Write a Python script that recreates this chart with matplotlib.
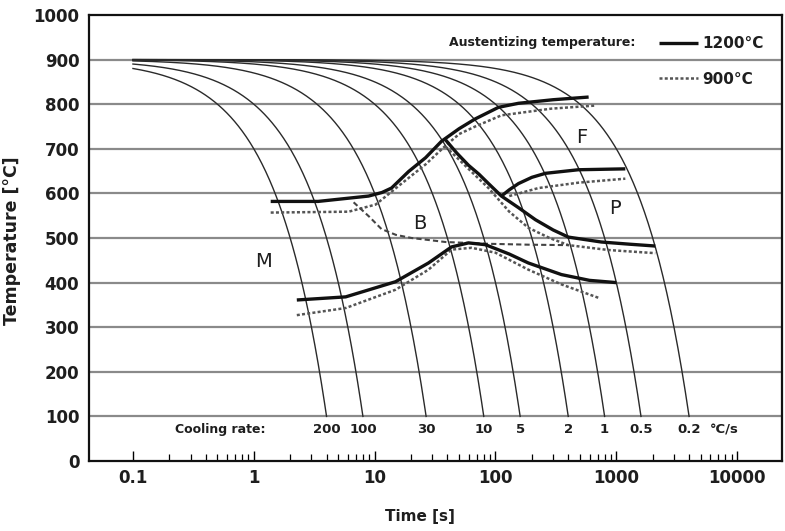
import numpy as np
import matplotlib.pyplot as plt
from matplotlib.ticker import NullFormatter

plt.rcParams['font.family'] = ['DejaVu Sans']

# cooling rates (degC/s) of the continuous cooling curves
rates = [200, 100, 30, 10, 5, 2, 1, 0.5, 0.2]
rate_labels = ['200', '100', '30', '10', '5', '2', '1', '0.5', '0.2']
T_aust = 900
T_stop = 100
t_first = 0.1

# austenitizing 1200 C (solid)
fb_start_1200_t = [1.38, 3.4, 8.9, 11.5, 13.8, 19.1, 26.4, 35.8, 50, 68, 106, 155, 300, 590]
fb_start_1200_T = [582, 582, 594, 602, 612, 649, 680, 717, 745, 767, 793, 802, 810, 816]
fp_end_1200_t = [38.6, 48, 59.8, 73, 87.5, 112, 155, 214, 300, 401, 751, 1300, 2100]
fp_end_1200_T = [720, 690, 663, 643, 622, 594, 568, 541, 518, 502, 491, 486, 482]
p_start_1200_t = [112, 130, 155, 200, 259, 485, 1187]
p_start_1200_T = [594, 608, 622, 636, 645, 653, 655]
b_end_1200_t = [2.27, 5.76, 14.9, 27.9, 43.3, 59.8, 82.6, 130, 187, 351, 600, 1000]
b_end_1200_T = [361, 368, 402, 444, 480, 489, 485, 464, 444, 418, 405, 400]

# austenitizing 900 C (dotted)
fb_start_900_t = [1.38, 6.1, 10.2, 16.7, 26.4, 38.6, 50, 68, 112, 290, 680]
fb_start_900_T = [557, 559, 575, 622, 665, 707, 733, 750, 775, 790, 797]
fp_end_900_t = [38.6, 59.8, 87.5, 130, 187, 280, 401, 862, 2100]
fp_end_900_T = [705, 655, 612, 559, 523, 500, 484, 473, 466]
b_split_900_t = [6.7, 9, 11.4, 15, 20.2, 38.6, 87.5, 187, 401]
b_split_900_T = [580, 548, 520, 507, 500, 491, 487, 485, 484]
p_start_900_t = [130, 227, 485, 1187]
p_start_900_T = [594, 612, 624, 633]
b_end_900_t = [2.27, 5.76, 14.9, 27.9, 43.3, 63.5, 100, 187, 351, 710]
b_end_900_T = [327, 343, 384, 429, 474, 478, 467, 429, 396, 366]

x_ticks = [0.1, 1, 10, 100, 1000, 10000]
x_tick_labels = ['0.1', '1', '10', '100', '1000', '10000']
y_ticks = list(range(0, 1001, 100))

ink = '#1e1e1e'

fig = plt.figure(figsize=(7.85, 5.31), dpi=100)
ax = fig.add_axes([0.1134, 0.1318, 0.8828, 0.84])

ax.set_xscale('log')
ax.set_xlim(0.0433, 23500)
ax.set_ylim(0, 1000)

for y in y_ticks[1:-1]:
    ax.axhline(y, color='#8a8a8a', lw=1.6, zorder=1)

# cooling curves
for r in rates:
    t = np.geomspace(t_first, (T_aust - T_stop) / r, 300)
    ax.plot(t, T_aust - r * t, color='#2a2a2a', lw=1.0, zorder=2)

solid = dict(color='#111111', lw=2.4, zorder=4, solid_capstyle='butt',
             solid_joinstyle='round')
dotted = dict(color='#555555', lw=1.8, ls=(0, (1.2, 0.9)), zorder=3)

h1200, = ax.plot(fb_start_1200_t, fb_start_1200_T, **solid)
ax.plot(fp_end_1200_t, fp_end_1200_T, **solid)
ax.plot(p_start_1200_t, p_start_1200_T, **solid)
ax.plot(b_end_1200_t, b_end_1200_T, **solid)

h900, = ax.plot(fb_start_900_t, fb_start_900_T, **dotted)
ax.plot(fp_end_900_t, fp_end_900_T, **dotted)
ax.plot(b_split_900_t, b_split_900_T, color='#444444', lw=1.5,
        ls=(0, (2.5, 1.5)), zorder=3)
ax.plot(p_start_900_t, p_start_900_T, **dotted)
ax.plot(b_end_900_t, b_end_900_T, **dotted)

# phase field labels
for txt, tx, ty in [('M', 1.21, 447), ('B', 23.5, 532), ('F', 514, 725), ('P', 982, 566)]:
    ax.text(tx, ty, txt, fontsize=14, color=ink, ha='center', va='center')

# cooling rate labels
ax.text(0.53, 70, 'Cooling rate:', fontsize=9, fontweight='bold', color=ink,
        ha='center', va='center')
for r, lab in zip(rates, rate_labels):
    ax.text((T_aust - T_stop) / r, 70, lab, fontsize=9.5, fontweight='bold',
            color=ink, ha='center', va='center')
ax.text(5900, 70, '°C/s', fontsize=9.5, fontweight='bold', color=ink,
        ha='left', va='center')

# legend
ax.text(0.788, 0.939, 'Austentizing temperature:', transform=ax.transAxes,
        fontsize=9, fontweight='bold', color=ink, ha='right', va='center')
leg = ax.legend([h1200, h900], ['1200°C', '900°C'], loc='center right',
                bbox_to_anchor=(0.982, 0.896), frameon=False,
                handlelength=2.6, handletextpad=0.25, labelspacing=1.35,
                prop={'size': 11, 'weight': 'bold'}, borderaxespad=0)
for t in leg.get_texts():
    t.set_color(ink)

minor_ticks = [m * 10.0 ** e for e in range(-1, 4) for m in range(2, 10)]
ax.set_xticks(x_ticks)
ax.set_xticklabels(x_tick_labels)
ax.set_xticks(minor_ticks, minor=True)
ax.xaxis.set_minor_formatter(NullFormatter())
ax.tick_params(axis='x', which='major', direction='in', length=7, width=1,
               labelsize=12, pad=6)
ax.tick_params(axis='x', which='minor', direction='in', length=5, width=0.9)
ax.set_yticks(y_ticks)
ax.tick_params(axis='y', length=0, labelsize=12, pad=7)
for lab in ax.get_xticklabels() + ax.get_yticklabels():
    lab.set_fontweight('bold')
    lab.set_color(ink)

for sp in ax.spines.values():
    sp.set_linewidth(1.6)
    sp.set_color('#111111')

ax.set_xlabel('Time [s]', fontsize=11, fontweight='bold', color=ink)
ax.set_ylabel('Temperature [°C]', fontsize=12.5, fontweight='bold', color=ink)
ax.xaxis.set_label_coords(0.478, -0.108)
ax.yaxis.set_label_coords(-0.098, 0.493)

fig.savefig('out.png', dpi=100)
